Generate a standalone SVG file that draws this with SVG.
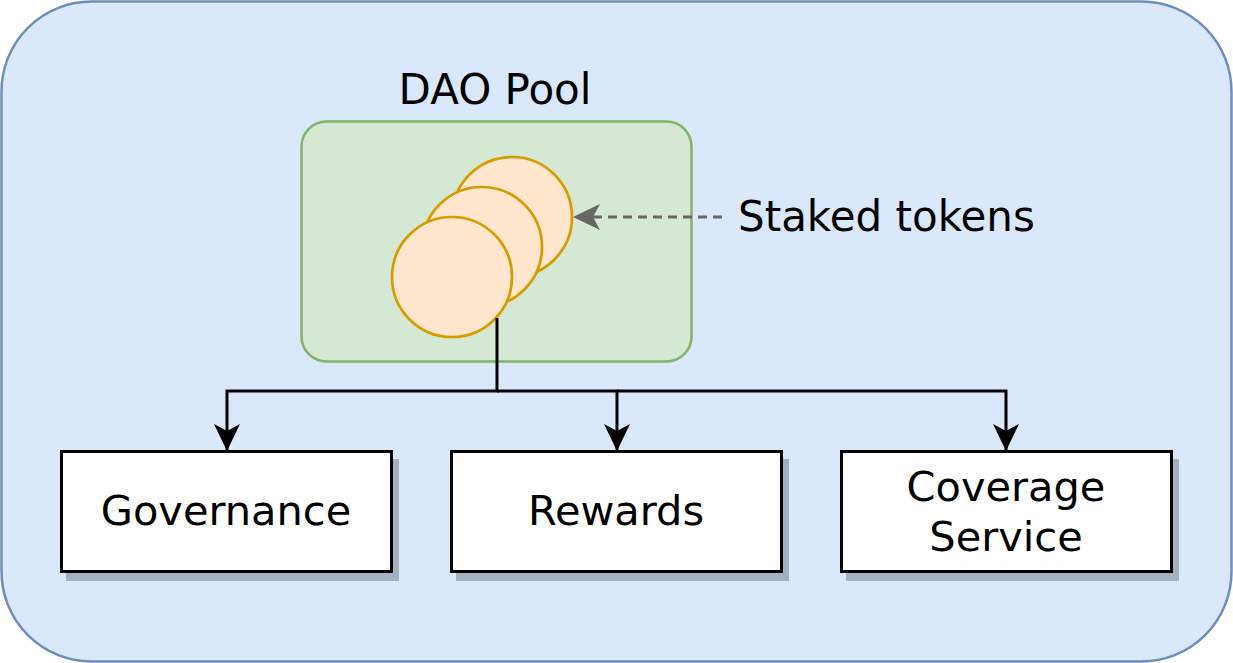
<svg xmlns="http://www.w3.org/2000/svg" width="1233" height="663" viewBox="0 0 1233 663">
<style>
text{font-family:"DejaVu Sans",Verdana,sans-serif;font-size:42px;fill:#000}
.bt{font-size:41.5px}
.box{fill:#fff;stroke:#000;stroke-width:3}
.shadow{fill:#a4afbf}
.coin{fill:#ffe6cc;stroke:#d79b00;stroke-width:2.7}
.conn{fill:none;stroke:#000;stroke-width:3}
</style>
<defs>
<marker id="ah" markerUnits="userSpaceOnUse" markerWidth="30" markerHeight="30" refX="27" refY="13.5" orient="auto">
<path d="M0,0.5 L27,13.5 L0,26.5 L7,13.5 Z" fill="#000"/>
</marker>
<marker id="ahg" markerUnits="userSpaceOnUse" markerWidth="30" markerHeight="30" refX="27" refY="13.5" orient="auto">
<path d="M0,0.5 L27,13.5 L0,26.5 L7,13.5 Z" fill="#666"/>
</marker>
</defs>
<g id="container">
<rect x="1.5" y="1.5" width="1230" height="660" rx="90" fill="#dae8fc" stroke="#6c8ebf" stroke-width="2.5"/>
</g>
<g id="dao-pool">
<rect x="301.5" y="121.5" width="390" height="240" rx="25" fill="#d5e8d4" stroke="#82b366" stroke-width="2.5"/>
<text x="495" y="104" text-anchor="middle">DAO Pool</text>
</g>
<g id="tokens">
<circle class="coin" cx="512" cy="217" r="60"/>
<circle class="coin" cx="482" cy="247" r="60"/>
<circle class="coin" cx="452" cy="277" r="60"/>
</g>
<g id="staked-label">
<text x="738" y="231">Staked tokens</text>
</g>
<g id="connectors">
<path class="conn" d="M497,318 V391 H227 V451" marker-end="url(#ah)"/>
<path class="conn" d="M497,391 H617 V451" marker-end="url(#ah)"/>
<path class="conn" d="M617,391 H1006 V451" marker-end="url(#ah)"/>
<path d="M722,217 H573" fill="none" stroke="#666" stroke-width="3" stroke-dasharray="9,6" marker-end="url(#ahg)"/>
</g>
<g id="governance">
<rect class="shadow" x="66" y="459" width="333" height="122"/>
<rect class="box" x="61.5" y="451.5" width="330" height="120"/>
<text class="bt" x="226" y="525" text-anchor="middle">Governance</text>
</g>
<g id="rewards">
<rect class="shadow" x="456" y="459" width="333" height="122"/>
<rect class="box" x="451.5" y="451.5" width="330" height="120"/>
<text class="bt" x="616" y="525" text-anchor="middle">Rewards</text>
</g>
<g id="coverage-service">
<rect class="shadow" x="846" y="459" width="333" height="122"/>
<rect class="box" x="841.5" y="451.5" width="330" height="120"/>
<text class="bt" x="1006" y="501" text-anchor="middle">Coverage</text>
<text class="bt" x="1006" y="551" text-anchor="middle">Service</text>
</g>
</svg>
